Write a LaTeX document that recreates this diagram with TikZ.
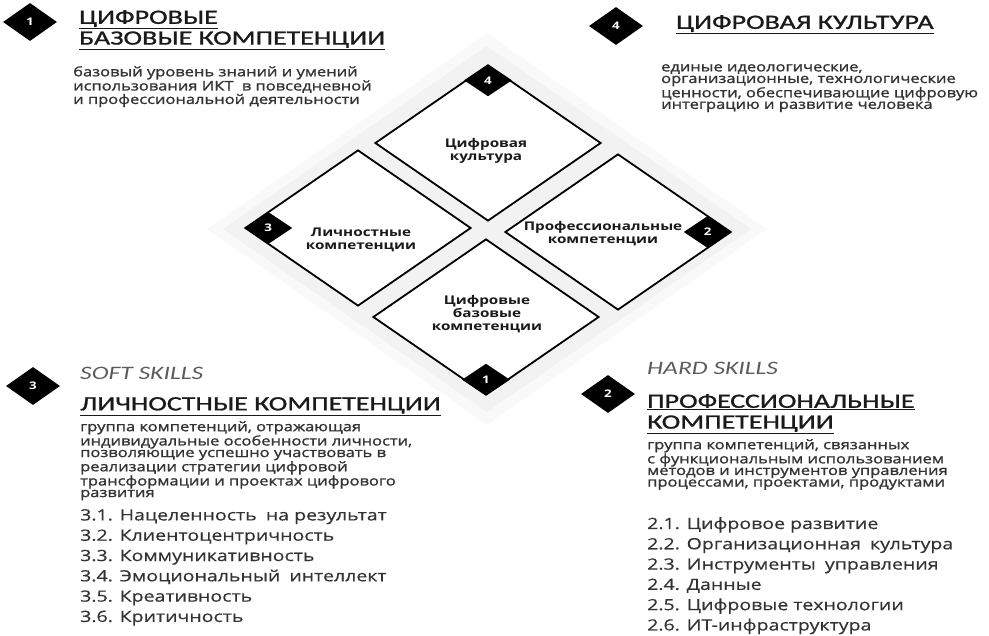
\documentclass[tikz,border=0pt]{standalone}
\usepackage{fontspec}
\setmainfont[FakeStretch=1.27]{Open Sans}
\newfontfamily\bodyfont[FakeStretch=1.25,FakeBold=1.4]{Open Sans}
\newfontfamily\itemfont[FakeStretch=1.26,FakeBold=0.5]{Open Sans}
\newfontfamily\headfont[FakeStretch=1.38,FakeBold=1.1]{Carlito}
\newfontfamily\skillfont[FakeStretch=1.35]{Carlito}
\usetikzlibrary{shapes.geometric}
\definecolor{ink}{HTML}{1A1A1A}
\definecolor{txt}{HTML}{333333}
\definecolor{soft}{HTML}{5C5C5C}
\newcommand{\wsp}{\hspace{4pt}}
\begin{document}
\begin{tikzpicture}[x=1pt,y=-1pt,
  wd/.style={shape=diamond, draw=black, line width=1.8pt, fill=white,
    minimum width=226pt, minimum height=156pt, inner sep=0pt},
  blk/.style={shape=diamond, fill=black, inner sep=0pt, text=white,
    font=\bfseries\fontsize{10.5}{10.5}\selectfont},
  blks/.style={blk, minimum width=48pt, minimum height=32pt},
  blkb/.style={blk, minimum width=54pt, minimum height=38pt},
  halo/.style={shape=diamond, inner sep=0pt},
  head/.style={anchor=north west, inner sep=0pt, align=left, text=ink,
    font=\headfont\fontsize{20.3}{20.8}\selectfont},
  skill/.style={anchor=north west, inner sep=0pt, text=soft,
    font=\skillfont\itshape\fontsize{19}{19}\selectfont},
  body/.style={anchor=north west, inner sep=0pt, align=left, text=txt,
    font=\bodyfont\fontsize{13.2}{11.6}\selectfont},
  items/.style={anchor=north west, inner sep=0pt, align=left, text=txt,
    font=\itemfont\fontsize{15.5}{20.3}\selectfont},
  lab/.style={align=center, inner sep=0pt, text=ink,
    font=\bfseries\fontsize{12}{13}\selectfont}
]
\useasboundingbox (0,0) rectangle (989,636);

% soft grey background
\node[halo, fill=gray!5, minimum width=560pt, minimum height=392pt] (bg1) at (487,229) {};
\node[halo, fill=gray!10, minimum width=528pt, minimum height=366pt] (bg2) at (487,229) {};

% four diamonds
\node[wd] (dc) at (488,143) {};
\node[wd] (dl) at (358,228) {};
\node[wd] (dr) at (618,232) {};
\node[wd] (db) at (486,317) {};

\node[lab] (lc) at (486,151) {Цифровая\\культура};
\node[lab] (ll) at (361,240) {Личностные\\компетенции};
\node[lab] (lr) at (603,234) {Профессиональные\\компетенции};
\node[lab] (lb) at (487,314) {Цифровые\\базовые\\компетенции};

\node[blks, anchor=north] (n4) at (dc.north) {4};
\node[blks, anchor=west]  (n3) at (dl.west)  {3};
\node[blks, anchor=east]  (n2) at (dr.east)  {2};
\node[blks, anchor=south] (n1) at (db.south) {1};

% block 1
\node[blkb] (m1) at (30,22) {1};
\node[head] (h1) at (79,10) {\underline{ЦИФРОВЫЕ}\\\underline{БАЗОВЫЕ КОМПЕТЕНЦИИ}};
\node[body] (t1) at (73,66) {базовый уровень знаний и умений\\использования ИКТ\wsp{} в повседневной\\и профессиональной деятельности};

% block 4
\node[blkb] (m4) at (616,26) {4};
\node[head] (h4) at (676,15) {\underline{ЦИФРОВАЯ КУЛЬТУРА}};
\node[body] (t4) at (661,64) {единые идеологические,\\организационные, технологические\\ценности, обеспечивающие цифровую\\интеграцию и развитие человека};

% block 3
\node[blkb] (m3) at (33,386) {3};
\node[skill] (s3) at (80,367) {SOFT SKILLS};
\node[head] (h3) at (80,397) {\underline{ЛИЧНОСТНЫЕ КОМПЕТЕНЦИИ}};
\node[body] (t3) at (80,421) {группа компетенций, отражающая\\индивидуальные особенности личности,\\позволяющие успешно участвовать в\\реализации стратегии цифровой\\трансформации и проектах цифрового\\развития};
\node[items] (i3) at (80,509) {3.1. Нацеленность\wsp{} на результат\\3.2. Клиентоцентричность\\3.3. Коммуникативность\\3.4. Эмоциональный\wsp{} интеллект\\3.5. Креативность\\3.6. Критичность};

% block 2
\node[blkb] (m2) at (608,394) {2};
\node[skill] (s2) at (647,362) {HARD SKILLS};
\node[head] (h2) at (647,394) {\underline{ПРОФЕССИОНАЛЬНЫЕ}\\\underline{КОМПЕТЕНЦИИ}};
\node[body] (t2) at (647,439) {группа компетенций, связанных\\с функциональным использованием\\методов и инструментов управления\\процессами, проектами, продуктами};
\node[items] (i2) at (647,517) {2.1. Цифровое развитие\\2.2. Организационная\wsp{} культура\\2.3. Инструменты\wsp{} управления\\2.4. Данные\\2.5. Цифровые технологии\\2.6. ИТ-инфраструктура};
\end{tikzpicture}
\end{document}
